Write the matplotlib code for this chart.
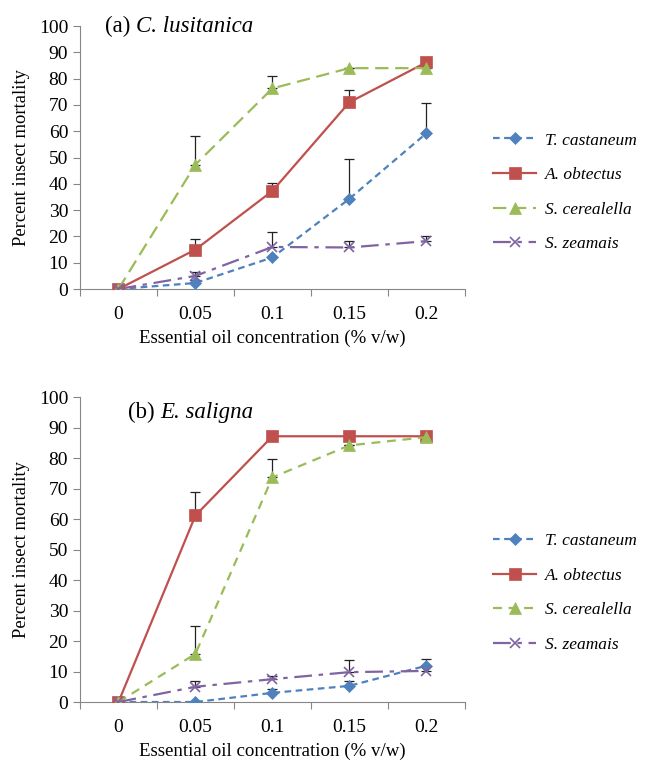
import numpy as np
import matplotlib
matplotlib.use("Agg")
import matplotlib.pyplot as plt

plt.rcParams['font.family'] = ['Liberation Serif', 'DejaVu Serif']

# Data
concentrations = ['0', '0.05', '0.1', '0.15', '0.2']
species = ['T. castaneum', 'A. obtectus', 'S. cerealella', 'S. zeamais']

# (a) C. lusitanica
a_tcast = [0, 2.3, 12, 34.3, 59.2]
a_tcast_err = [0, 1.0, 0, 15, 11.4]
a_aobt = [0, 15, 37.3, 71, 86.2]
a_aobt_err = [0, 4, 3, 4.8, 0]
a_scer = [0, 47.3, 76.3, 84, 84]
a_scer_err = [0, 11, 4.7, 0, 0]
a_szea = [0, 5, 16, 15.8, 18.2]
a_szea_err = [0, 1.5, 5.8, 2.5, 2]

# (b) E. saligna
b_tcast = [0, 0, 3, 5.3, 11.9]
b_tcast_err = [0, 0, 1.2, 1.5, 2.2]
b_aobt = [0, 61.2, 87.2, 87.2, 87.2]
b_aobt_err = [0, 7.8, 0, 0, 0]
b_scer = [0, 15.8, 73.7, 84.2, 86.9]
b_scer_err = [0, 9, 6, 0, 0]
b_szea = [0, 5, 7.5, 9.8, 10.2]
b_szea_err = [0, 1.8, 1.0, 4, 1.5]

colors = ['#4F81BD', '#C0504D', '#9BBB59', '#8064A2']
markers = ['D', 's', '^', 'x']
msizes = [6, 8.5, 8.5, 7.5]


def draw_panel(ax, series, errs, label, name, tpos, cer_dash, leg_y):
    x = np.arange(len(concentrations))
    styles = [(0, (3, 2)), '-', cer_dash, (0, (8, 3, 2, 3))]
    for i, (y, e) in enumerate(zip(series, errs)):
        ax.errorbar(x, y, yerr=[np.zeros(len(e)), e], fmt='none',
                    ecolor='#222222', elinewidth=0.9, capsize=3.5,
                    capthick=0.9, zorder=2)
        ax.plot(x, y, color=colors[i], linestyle=styles[i], linewidth=1.6,
                marker=markers[i], markersize=msizes[i],
                markeredgewidth=1.2 if markers[i] == 'x' else 0.5,
                markeredgecolor=colors[i], label=species[i], zorder=3)
    ax.set_xlim(-0.5, len(concentrations) - 0.5)
    ax.set_ylim(0, 100)
    ax.set_yticks(np.arange(0, 101, 10))
    ax.set_xticks(np.arange(-0.5, len(concentrations), 1.0))
    ax.set_xticklabels([])
    ax.set_xticks(x, minor=True)
    ax.set_xticklabels(concentrations, minor=True)
    ax.tick_params(axis='x', which='major', length=5, color='#868686', direction='out')
    ax.tick_params(axis='x', which='minor', length=0, labelsize=14, pad=12)
    ax.tick_params(axis='y', length=5, color='#868686', labelsize=14)
    for s in ['top', 'right']:
        ax.spines[s].set_visible(False)
    for s in ['left', 'bottom']:
        ax.spines[s].set_color('#868686')
    ax.set_ylabel('Percent insect mortality', fontsize=13.4, labelpad=6)
    ax.set_xlabel('Essential oil concentration (% v/w)', fontsize=13.6, labelpad=5)
    t1 = ax.text(tpos[0], tpos[1], label + ' ', transform=ax.transAxes,
                 fontsize=16.5, va='center', ha='left')
    ax.annotate(name, xy=(1, 0.5), xycoords=t1, fontsize=16.5,
                style='italic', va='center', ha='left')
    ax.legend(loc='center left', bbox_to_anchor=(1.073, leg_y),
              frameon=False, prop={'style': 'italic', 'size': 12.5},
              handlelength=2.5, labelspacing=1.06, handletextpad=0.5,
              borderaxespad=0, borderpad=0)


fig = plt.figure(figsize=(6.51, 7.6), dpi=100)
ax1 = fig.add_axes([0.1229, 0.6197, 0.591, 0.346])
ax2 = fig.add_axes([0.1229, 0.0763, 0.591, 0.401])

draw_panel(ax1, [a_tcast, a_aobt, a_scer, a_szea],
           [a_tcast_err, a_aobt_err, a_scer_err, a_szea_err],
           '(a)', 'C. lusitanica', (0.065, 1.0), (0, (6, 3)), 0.368)
draw_panel(ax2, [b_tcast, b_aobt, b_scer, b_szea],
           [b_tcast_err, b_aobt_err, b_scer_err, b_szea_err],
           '(b)', 'E. saligna', (0.125, 0.951), (0, (4, 3)), 0.358)

fig.savefig('out.png', dpi=100)
